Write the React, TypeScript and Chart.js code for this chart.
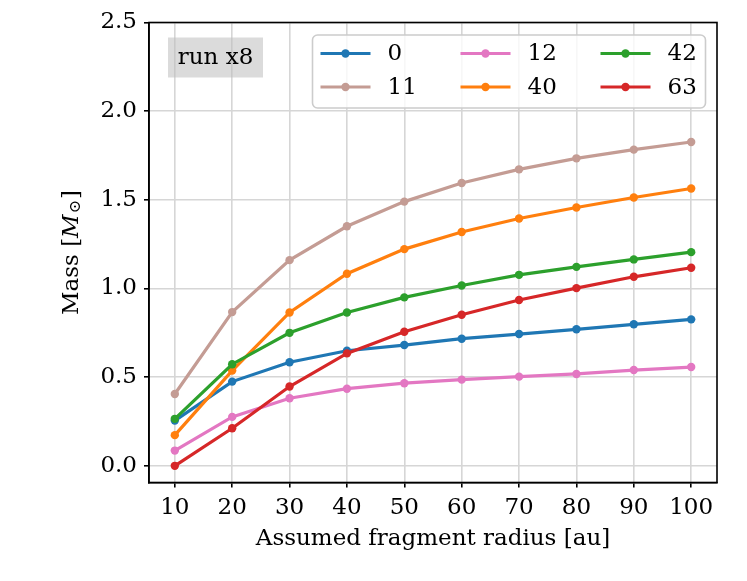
import { useEffect, useRef } from 'react';
import { Chart, registerables } from 'chart.js';
import type { Plugin } from 'chart.js';

Chart.register(...registerables);

// fragment radius [au]
const radii = [10, 20, 30, 40, 50, 60, 70, 80, 90, 100];

// mass [M_sun] per run
const run0 = [0.255, 0.475, 0.584, 0.649, 0.681, 0.717, 0.743, 0.77, 0.798, 0.826];
const run11 = [0.405, 0.867, 1.16, 1.351, 1.49, 1.595, 1.672, 1.734, 1.783, 1.826];
const run12 = [0.086, 0.276, 0.381, 0.435, 0.466, 0.486, 0.503, 0.518, 0.54, 0.557];
const run40 = [0.173, 0.537, 0.865, 1.083, 1.222, 1.319, 1.395, 1.457, 1.513, 1.564];
const run42 = [0.265, 0.573, 0.75, 0.865, 0.95, 1.017, 1.077, 1.122, 1.164, 1.205];
const run63 = [0.0, 0.212, 0.447, 0.634, 0.756, 0.852, 0.935, 1.002, 1.066, 1.117];

const seriesLabels = ['0', '11', '12', '40', '42', '63'];
const seriesValues = [run0, run11, run12, run40, run42, run63];
const seriesColors = ['#1f77b4', '#c49c94', '#e377c2', '#ff7f0e', '#2ca02c', '#d62728'];

const xTicks = [10, 20, 30, 40, 50, 60, 70, 80, 90, 100];
const yTicks = [0, 0.5, 1.0, 1.5, 2.0, 2.5];

const runLabel = 'run x8';
const xTitle = 'Assumed fragment radius [au]';

const FONT = "'DejaVu Serif', serif";
const FONT_SIZE = 23;

// spines, "run x8" box, legend and the y title with mathtext
const decorPlugin: Plugin<'line'> = {
	id: 'decor',
	afterDatasetsDraw(chart) {
		const { ctx, chartArea: a } = chart;
		ctx.save();

		// frame
		ctx.strokeStyle = '#000';
		ctx.lineWidth = 1.6;
		ctx.strokeRect(a.left, a.top, a.right - a.left, a.bottom - a.top);

		// run box
		const bx = a.left + 19;
		const by = a.top + 15;
		ctx.fillStyle = 'rgba(190, 190, 190, 0.55)';
		ctx.fillRect(bx, by, 95, 40);
		ctx.fillStyle = '#000';
		ctx.font = `${FONT_SIZE}px ${FONT}`;
		ctx.textAlign = 'center';
		ctx.textBaseline = 'middle';
		ctx.fillText(runLabel, bx + 47.5, by + 21);

		// legend
		const lx = a.left + 163.5;
		const ly = a.top + 12.5;
		const lw = 393;
		const lh = 73;
		ctx.beginPath();
		ctx.roundRect(lx, ly, lw, lh, 5);
		ctx.fillStyle = 'rgba(255, 255, 255, 0.8)';
		ctx.fill();
		ctx.strokeStyle = '#cccccc';
		ctx.lineWidth = 1.6;
		ctx.stroke();

		ctx.textAlign = 'left';
		chart.data.datasets.forEach((ds, i) => {
			const col = Math.floor(i / 2);
			const row = i % 2;
			const hx = lx + 8 + col * 140;
			const hy = ly + 18.5 + row * 33.5;
			const color = ds.borderColor as string;
			ctx.strokeStyle = color;
			ctx.lineWidth = 3.2;
			ctx.beginPath();
			ctx.moveTo(hx, hy);
			ctx.lineTo(hx + 50, hy);
			ctx.stroke();
			ctx.fillStyle = color;
			ctx.beginPath();
			ctx.arc(hx + 25, hy, 4.2, 0, Math.PI * 2);
			ctx.fill();
			ctx.fillStyle = '#000';
			ctx.fillText(String(ds.label), hx + 67, hy + 1);
		});

		// y title: Mass [M_\odot]
		const cx = 72;
		const cy = (a.top + a.bottom) / 2;
		const regular = `${FONT_SIZE}px ${FONT}`;
		const italic = `italic ${FONT_SIZE}px ${FONT}`;
		const small = `${Math.round(FONT_SIZE * 0.7)}px ${FONT}`;
		const parts: [string, string, number][] = [
			['Mass [', regular, 0],
			['M', italic, 0],
			['\u2299', small, 4],
			[']', regular, 0],
		];
		let total = 0;
		const widths = parts.map(([t, f]) => {
			ctx.font = f;
			const w = ctx.measureText(t).width + (t === '\u2299' ? 2 : 0);
			total += w;
			return w;
		});
		ctx.translate(cx, cy);
		ctx.rotate(-Math.PI / 2);
		ctx.textBaseline = 'middle';
		ctx.textAlign = 'left';
		ctx.fillStyle = '#000';
		let x = -total / 2;
		parts.forEach(([t, f, dy], i) => {
			ctx.font = f;
			ctx.fillText(t, x + (t === '\u2299' ? 1 : 0), dy);
			x += widths[i];
		});

		ctx.restore();
	},
};

function MassChart() {
	const chartRef = useRef<HTMLCanvasElement | null>(null);

	useEffect(() => {
		if (!chartRef.current) return;

		const existing = Chart.getChart(chartRef.current);
		if (existing) existing.destroy();

		const datasets = seriesLabels.map((label, i) => ({
			label,
			data: radii.map((r, j) => ({ x: r, y: seriesValues[i][j] })),
			borderColor: seriesColors[i],
			backgroundColor: seriesColors[i],
			pointBackgroundColor: seriesColors[i],
			borderWidth: 3.2,
			pointRadius: 4.2,
			pointBorderWidth: 0,
			tension: 0,
			fill: false,
			order: seriesLabels.length - i,
		}));

		const tickFont = { family: FONT, size: FONT_SIZE };

		const chart = new Chart(chartRef.current, {
			type: 'line',
			data: { datasets },
			options: {
				animation: false,
				responsive: true,
				maintainAspectRatio: false,
				layout: { padding: { left: 0, top: 22.5, right: 30, bottom: 0 } },
				plugins: {
					legend: { display: false },
					tooltip: { enabled: false },
				},
				scales: {
					x: {
						type: 'linear',
						min: 5.5,
						max: 104.5,
						afterBuildTicks: (scale) => {
							scale.ticks = xTicks.map((v) => ({ value: v }));
						},
						afterFit: (scale) => {
							scale.height = 98.5;
						},
						ticks: {
							font: tickFont,
							color: '#000',
							padding: 7,
							maxRotation: 0,
							callback: (v) => String(v),
						},
						grid: {
							color: '#d6d6d6',
							lineWidth: 1.6,
							tickColor: '#000',
							tickLength: 5,
							tickWidth: 1.6,
						},
						border: { color: '#000', width: 1.6 },
						title: {
							display: true,
							text: xTitle,
							font: tickFont,
							color: '#000',
							padding: { top: 0, bottom: 28 },
						},
					},
					y: {
						type: 'linear',
						min: -0.094,
						max: 2.5,
						afterBuildTicks: (scale) => {
							scale.ticks = yTicks.map((v) => ({ value: v }));
						},
						afterFit: (scale) => {
							scale.width = 149;
						},
						ticks: {
							font: tickFont,
							color: '#000',
							padding: 7,
							callback: (v) => Number(v).toFixed(1),
						},
						grid: {
							color: '#d6d6d6',
							lineWidth: 1.6,
							tickColor: '#000',
							tickLength: 5,
							tickWidth: 1.6,
						},
						border: { color: '#000', width: 1.6 },
					},
				},
			},
			plugins: [decorPlugin],
		});

		return () => {
			chart.destroy();
		};
	}, []);

	return (
		<div style={{ position: 'fixed', left: 0, top: 0, width: '747px', height: '581px', background: '#fff' }}>
			<canvas ref={chartRef}></canvas>
		</div>
	);
}

export default function App() {
	return <MassChart />;
}
